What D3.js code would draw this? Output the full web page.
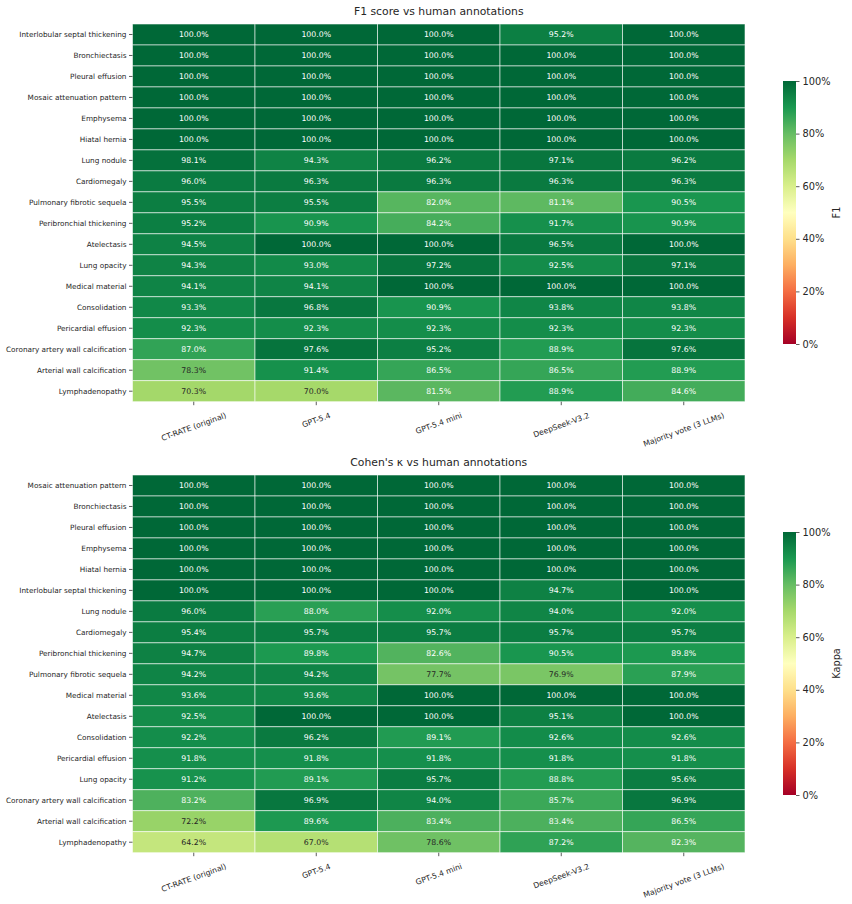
<!DOCTYPE html>
<html>
<head>
<meta charset="utf-8">
<script src="https://cdn.jsdelivr.net/npm/d3@7"></script>
<style>
  body { margin: 0; background: #fff; }
  text { font-family: "DejaVu Sans", sans-serif; }
</style>
</head>
<body>
<script>
// Column labels (shared by both heatmaps)
const models = ["CT-RATE (original)", "GPT-5.4", "GPT-5.4 mini", "DeepSeek-V3.2", "Majority vote (3 LLMs)"];

// F1 heatmap rows and values (%)
const f1Rows = ["Interlobular septal thickening", "Bronchiectasis", "Pleural effusion", "Mosaic attenuation pattern",
  "Emphysema", "Hiatal hernia", "Lung nodule", "Cardiomegaly", "Pulmonary fibrotic sequela", "Peribronchial thickening",
  "Atelectasis", "Lung opacity", "Medical material", "Consolidation", "Pericardial effusion",
  "Coronary artery wall calcification", "Arterial wall calcification", "Lymphadenopathy"];
const f1Values = [
  [100, 100, 100, 95.2, 100],
  [100, 100, 100, 100, 100],
  [100, 100, 100, 100, 100],
  [100, 100, 100, 100, 100],
  [100, 100, 100, 100, 100],
  [100, 100, 100, 100, 100],
  [98.1, 94.3, 96.2, 97.1, 96.2],
  [96.0, 96.3, 96.3, 96.3, 96.3],
  [95.5, 95.5, 82.0, 81.1, 90.5],
  [95.2, 90.9, 84.2, 91.7, 90.9],
  [94.5, 100, 100, 96.5, 100],
  [94.3, 93.0, 97.2, 92.5, 97.1],
  [94.1, 94.1, 100, 100, 100],
  [93.3, 96.8, 90.9, 93.8, 93.8],
  [92.3, 92.3, 92.3, 92.3, 92.3],
  [87.0, 97.6, 95.2, 88.9, 97.6],
  [78.3, 91.4, 86.5, 86.5, 88.9],
  [70.3, 70.0, 81.5, 88.9, 84.6]
];

// Cohen's kappa heatmap rows and values (%)
const kappaRows = ["Mosaic attenuation pattern", "Bronchiectasis", "Pleural effusion", "Emphysema", "Hiatal hernia",
  "Interlobular septal thickening", "Lung nodule", "Cardiomegaly", "Peribronchial thickening",
  "Pulmonary fibrotic sequela", "Medical material", "Atelectasis", "Consolidation", "Pericardial effusion",
  "Lung opacity", "Coronary artery wall calcification", "Arterial wall calcification", "Lymphadenopathy"];
const kappaValues = [
  [100, 100, 100, 100, 100],
  [100, 100, 100, 100, 100],
  [100, 100, 100, 100, 100],
  [100, 100, 100, 100, 100],
  [100, 100, 100, 100, 100],
  [100, 100, 100, 94.7, 100],
  [96.0, 88.0, 92.0, 94.0, 92.0],
  [95.4, 95.7, 95.7, 95.7, 95.7],
  [94.7, 89.8, 82.6, 90.5, 89.8],
  [94.2, 94.2, 77.7, 76.9, 87.9],
  [93.6, 93.6, 100, 100, 100],
  [92.5, 100, 100, 95.1, 100],
  [92.2, 96.2, 89.1, 92.6, 92.6],
  [91.8, 91.8, 91.8, 91.8, 91.8],
  [91.2, 89.1, 95.7, 88.8, 95.6],
  [83.2, 96.9, 94.0, 85.7, 96.9],
  [72.2, 89.6, 83.4, 83.4, 86.5],
  [64.2, 67.0, 78.6, 87.2, 82.3]
];

// Colorbar ticks (%)
const cbarTicks = [0, 20, 40, 60, 80, 100];

// RdYlGn, linear between the 11 brewer colours (like matplotlib)
const rdylgn = ["#a50026", "#d73027", "#f46d43", "#fdae61", "#fee08b", "#ffffbf",
  "#d9ef8b", "#a6d96a", "#66bd63", "#1a9850", "#006837"];
const color = d3.scaleLinear()
  .domain(d3.range(11).map(i => i * 10))
  .range(rdylgn)
  .interpolate(d3.interpolateRgb)
  .clamp(true);

const W = 852, H = 904;
const svg = d3.select("body").append("svg")
  .attr("width", W)
  .attr("height", H);

const defs = svg.append("defs");
const grad = defs.append("linearGradient")
  .attr("id", "cbar-grad")
  .attr("x1", 0).attr("y1", 1).attr("x2", 0).attr("y2", 0);
d3.range(0, 101, 2).forEach(v => {
  grad.append("stop").attr("offset", v + "%").attr("stop-color", color(v));
});

// seaborn-style annotation colour from luminance
function textColor(c) {
  const rgb = d3.rgb(c);
  const lin = [rgb.r, rgb.g, rgb.b].map(v => {
    v = v / 255;
    return v <= 0.03928 ? v / 12.92 : Math.pow((v + 0.055) / 1.055, 2.4);
  });
  const lum = 0.2126 * lin[0] + 0.7152 * lin[1] + 0.0722 * lin[2];
  return lum > 0.408 ? "#262626" : "#ffffff";
}

function drawHeatmap(opts) {
  const g = svg.append("g");

  const x = d3.scaleBand()
    .domain(models)
    .range([132.5, 745]);
  const y = d3.scaleBand()
    .domain(opts.rows)
    .range([opts.top, opts.top + 377.7]);

  // Title
  g.append("text")
    .attr("x", (132.5 + 745) / 2)
    .attr("y", opts.top - 9.5)
    .attr("text-anchor", "middle")
    .style("font-size", "10.8px")
    .attr("fill", "#262626")
    .text(opts.title);

  // Cells
  const cells = [];
  opts.values.forEach((row, i) => row.forEach((v, j) => cells.push({ r: opts.rows[i], c: models[j], v: v })));

  g.selectAll("rect.cell")
    .data(cells)
    .enter()
    .append("rect")
    .attr("class", "cell")
    .attr("x", d => x(d.c))
    .attr("y", d => y(d.r))
    .attr("width", x.bandwidth())
    .attr("height", y.bandwidth())
    .attr("fill", d => color(d.v))
    .attr("stroke", "rgba(255,255,255,0.7)")
    .attr("stroke-width", 0.8);

  g.selectAll("text.annot")
    .data(cells)
    .enter()
    .append("text")
    .attr("class", "annot")
    .attr("x", d => x(d.c) + x.bandwidth() / 2)
    .attr("y", d => y(d.r) + y.bandwidth() / 2)
    .attr("dy", "0.36em")
    .attr("text-anchor", "middle")
    .style("font-size", "7.8px")
    .attr("fill", d => textColor(color(d.v)))
    .text(d => d.v.toFixed(1) + "%");

  // Y axis
  const yAxis = g.append("g")
    .attr("transform", "translate(132.5,0)")
    .call(d3.axisLeft(y).tickSize(3.5).tickPadding(2.5));
  yAxis.select(".domain").remove();
  yAxis.selectAll("text").style("font-size", "7.3px").attr("fill", "#262626");
  yAxis.selectAll("line").attr("stroke", "#333").attr("stroke-width", 0.8);

  // X axis with rotated labels
  const bottom = opts.top + 377.7;
  const xAxis = g.append("g")
    .attr("transform", `translate(0,${bottom})`)
    .call(d3.axisBottom(x).tickSize(3.5));
  xAxis.select(".domain").remove();
  xAxis.selectAll("line").attr("stroke", "#333").attr("stroke-width", 0.8);
  xAxis.selectAll("text").remove();

  const theta = 20 * Math.PI / 180;
  models.forEach(m => {
    const t = g.append("text")
      .attr("text-anchor", "middle")
      .attr("dy", "0.35em")
      .style("font-size", "7.7px")
      .attr("fill", "#262626")
      .text(m);
    const L = t.node().getComputedTextLength();
    const h = 7.7 * 1.17;
    const bh = L * Math.sin(theta) + h * Math.cos(theta);
    const cy = bottom + 9 + bh / 2;
    t.attr("transform", `translate(${x(m) + x.bandwidth() / 2},${cy}) rotate(-20)`);
  });

  // Colorbar
  const cTop = opts.top + 57, cBot = opts.top + 320;
  g.append("rect")
    .attr("x", 783)
    .attr("y", cTop)
    .attr("width", 13)
    .attr("height", cBot - cTop)
    .attr("fill", "url(#cbar-grad)");

  const cy = d3.scaleLinear().domain([0, 100]).range([cBot, cTop]);
  const cAxis = g.append("g")
    .attr("transform", "translate(796,0)")
    .call(d3.axisRight(cy).tickValues(cbarTicks).tickSize(3.5).tickPadding(3).tickFormat(d => d + "%"));
  cAxis.select(".domain").remove();
  cAxis.selectAll("line").attr("stroke", "#333").attr("stroke-width", 0.8);
  cAxis.selectAll("text").style("font-size", "9.8px").attr("fill", "#262626");

  g.append("text")
    .attr("transform", `translate(840,${(cTop + cBot) / 2}) rotate(-90)`)
    .attr("text-anchor", "middle")
    .style("font-size", "9.8px")
    .attr("fill", "#262626")
    .text(opts.label);
}

drawHeatmap({ top: 24, title: "F1 score vs human annotations", rows: f1Rows, values: f1Values, label: "F1" });
drawHeatmap({ top: 475, title: "Cohen's \u03ba vs human annotations", rows: kappaRows, values: kappaValues, label: "Kappa" });
</script>
</body>
</html>
